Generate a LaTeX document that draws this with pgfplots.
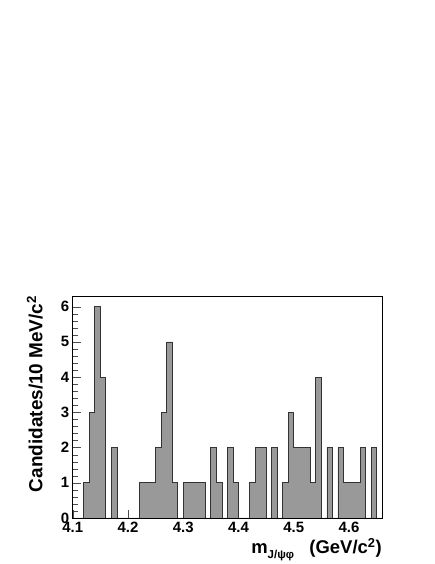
\documentclass[border=0pt]{standalone}
\usepackage{fontspec}
\setmainfont{Liberation Sans}
\usepackage{pgfplots}
\pgfplotsset{compat=1.18}
\definecolor{histfill}{HTML}{999999}
\definecolor{histline}{HTML}{333333}
\begin{document}
\begin{tikzpicture}
\begin{axis}[
  scale only axis,
  width=310.4pt, height=222.5pt,
  xmin=4.1, xmax=4.66,
  ymin=0, ymax=6.3,
  axis line style={black, line width=0.8pt},
  tick align=inside,
  xtick={4.1,4.2,4.3,4.4,4.5,4.6},
  xticklabels={4.1,4.2,4.3,4.4,4.5,4.6},
  ytick={0,1,2,3,4,5,6},
  minor y tick num=4,
  xtick pos=bottom, ytick pos=left,
  major tick length=8pt,
  minor tick length=5pt,
  x tick style={black!70},
  y tick style={black!70},
  /pgf/number format/assume math mode=true,
  tick label style={font=\fontsize{15}{16}\selectfont\bfseries},
  xticklabel style={yshift=-1pt},
  yticklabel style={xshift=0pt},
  xlabel={m\raisebox{-0.5ex}{\fontsize{11.5}{13}\selectfont J/ψφ}\ \ \ (GeV/c\textsuperscript{2})},
  ylabel={Candidates/10 MeV/c\textsuperscript{2}},
  xlabel style={font=\fontsize{18.5}{20}\selectfont\bfseries, at={(axis description cs:1.01,-0.075)}, anchor=north east},
  ylabel style={font=\fontsize{19}{21}\selectfont\bfseries, at={(axis description cs:-0.085,1.018)}, anchor=south east},
]
\addplot[const plot mark left, fill=histfill, draw=histline, line width=0.8pt] coordinates {
  (4.10,0) (4.11,0) (4.12,1) (4.13,3) (4.14,6) (4.15,4) (4.16,0) (4.17,2)
  (4.18,0) (4.19,0) (4.20,0) (4.21,0) (4.22,1) (4.23,1) (4.24,1) (4.25,2)
  (4.26,3) (4.27,5) (4.28,1) (4.29,0) (4.30,1) (4.31,1) (4.32,1) (4.33,1)
  (4.34,0) (4.35,2) (4.36,1) (4.37,0) (4.38,2) (4.39,1) (4.40,0) (4.41,0)
  (4.42,1) (4.43,2) (4.44,2) (4.45,0) (4.46,2) (4.47,0) (4.48,1) (4.49,3)
  (4.50,2) (4.51,2) (4.52,2) (4.53,1) (4.54,4) (4.55,0) (4.56,2) (4.57,0)
  (4.58,2) (4.59,1) (4.60,1) (4.61,1) (4.62,2) (4.63,0) (4.64,2) (4.65,0)
  (4.66,0)
} \closedcycle;
\end{axis}
\path[use as bounding box] (-72.9pt,-44.5pt) rectangle (363.1pt,519.5pt);
\end{tikzpicture}
\end{document}
